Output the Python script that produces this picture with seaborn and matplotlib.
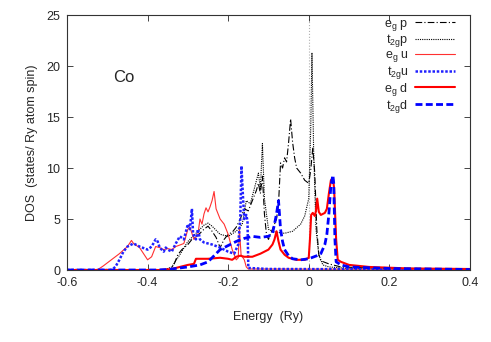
import numpy as np
import pandas as pd
import matplotlib
matplotlib.use("Agg")
import matplotlib.pyplot as plt
import seaborn as sns

sns.set_style("ticks")
plt.rcParams["font.family"] = ["Liberation Sans", "DejaVu Sans"]
plt.rcParams["mathtext.fontset"] = "custom"
plt.rcParams["mathtext.rm"] = "Liberation Sans"
plt.rcParams["mathtext.it"] = "Liberation Sans"

# e_g p (black dash-dot)
eg_p_E = [-0.6, -0.345, -0.335, -0.325, -0.315, -0.30, -0.29, -0.275, -0.26, -0.25,
          -0.24, -0.23, -0.22, -0.21, -0.20, -0.19, -0.18, -0.17, -0.16, -0.15,
          -0.14, -0.13, -0.125, -0.12, -0.115, -0.11, -0.105, -0.10, -0.09, -0.08,
          -0.075, -0.07, -0.065, -0.06, -0.055, -0.05, -0.045, -0.04, -0.035, -0.03,
          -0.02, -0.01, 0.0, 0.005, 0.01, 0.015, 0.02, 0.025, 0.03, 0.05, 0.08, 0.15, 0.4]
eg_p_D = [0, 0, 0.5, 1.5, 2.0, 2.5, 3.0, 3.4, 4.0, 4.3,
          3.8, 3.2, 2.2, 3.0, 3.5, 3.7, 4.2, 5.0, 6.0, 5.8,
          6.8, 7.8, 8.5, 7.5, 9.2, 5.5, 3.5, 3.0, 4.0, 5.0,
          6.5, 10.5, 10.0, 11.0, 10.6, 12.5, 14.8, 12.5, 11.0, 10.0,
          9.5, 8.8, 8.5, 9.8, 12.0, 9.5, 4.0, 1.5, 0.9, 0.6, 0.3, 0.2, 0.1]

# t2g p (black dotted)
t2g_p_E = [-0.6, -0.36, -0.34, -0.32, -0.30, -0.28, -0.26, -0.25, -0.24, -0.22,
           -0.20, -0.18, -0.165, -0.155, -0.145, -0.135, -0.125, -0.12, -0.115, -0.11,
           -0.10, -0.09, -0.08, -0.06, -0.04, -0.02, -0.01, 0.0, 0.005, 0.008,
           0.012, 0.018, 0.025, 0.035, 0.05, 0.1, 0.2, 0.4]
t2g_p_D = [0, 0, 0.3, 1.5, 2.8, 3.6, 4.4, 4.6, 4.3, 3.5,
           3.3, 3.8, 4.5, 6.8, 6.5, 8.0, 9.5, 8.0, 12.4, 7.0,
           4.0, 3.8, 3.7, 3.6, 3.8, 4.5, 5.3, 7.0, 14.0, 21.3,
           12.0, 4.0, 1.5, 0.5, 0.3, 0.15, 0.1, 0.05]

# e_g u (red thin)
eg_u_E = [-0.6, -0.525, -0.51, -0.49, -0.47, -0.45, -0.44, -0.435, -0.42, -0.41,
          -0.40, -0.39, -0.38, -0.37, -0.36, -0.35, -0.34, -0.33, -0.31, -0.30,
          -0.295, -0.285, -0.275, -0.27, -0.265, -0.26, -0.255, -0.25, -0.245, -0.24,
          -0.235, -0.23, -0.22, -0.21, -0.20, -0.19, -0.18, -0.175, -0.172, -0.168,
          -0.16, -0.155, -0.15, 0.4]
eg_u_D = [0, 0, 0.4, 1.0, 1.6, 2.3, 2.9, 2.6, 2.2, 1.6,
          1.0, 1.3, 2.3, 2.2, 2.0, 2.1, 2.0, 2.3, 2.6, 4.0,
          4.2, 3.0, 3.5, 5.0, 4.5, 5.5, 6.1, 5.7, 6.2, 6.8,
          7.7, 6.0, 5.0, 4.5, 3.5, 2.0, 1.0, 1.2, 4.0, 1.5,
          1.0, 0.3, 0.1, 0.05]

# t2g u (blue dotted)
t2g_u_E = [-0.6, -0.49, -0.48, -0.47, -0.46, -0.45, -0.435, -0.42, -0.40, -0.39,
           -0.38, -0.375, -0.37, -0.36, -0.355, -0.35, -0.34, -0.33, -0.32, -0.31,
           -0.30, -0.295, -0.29, -0.287, -0.28, -0.275, -0.27, -0.26, -0.24, -0.22,
           -0.20, -0.185, -0.175, -0.17, -0.167, -0.163, -0.16, -0.155, -0.152, -0.15,
           -0.1, 0.4]
t2g_u_D = [0, 0, 0.3, 1.0, 1.8, 2.3, 2.6, 2.3, 2.0, 2.3,
           3.0, 2.8, 2.2, 1.8, 2.2, 2.0, 1.8, 2.6, 3.3, 3.0,
           4.5, 4.0, 6.0, 3.5, 3.0, 4.0, 3.0, 2.7, 2.5, 2.2,
           1.8, 1.6, 2.5, 5.0, 10.2, 7.0, 5.0, 5.4, 4.8, 0.2,
           0.1, 0.05]

# e_g d (red thick)
eg_d_E = [-0.6, -0.37, -0.34, -0.32, -0.30, -0.285, -0.28, -0.25, -0.22, -0.20,
          -0.19, -0.18, -0.17, -0.16, -0.14, -0.12, -0.10, -0.09, -0.085, -0.08,
          -0.075, -0.07, -0.06, -0.05, -0.03, -0.01, 0.0, 0.003, 0.006, 0.01,
          0.015, 0.018, 0.021, 0.025, 0.03, 0.04, 0.045, 0.05, 0.055, 0.06,
          0.063, 0.068, 0.072, 0.08, 0.1, 0.15, 0.25, 0.4]
eg_d_D = [0, 0, 0.1, 0.3, 0.5, 0.6, 1.1, 1.1, 1.2, 1.1,
          1.0, 1.3, 1.4, 1.3, 1.3, 1.6, 2.0, 2.5, 3.0, 3.8,
          2.8, 2.0, 1.5, 1.2, 1.0, 1.0, 1.2, 3.0, 5.4, 5.6,
          5.3, 5.8, 7.0, 5.7, 5.4, 5.6, 6.0, 7.5, 8.8, 9.0,
          8.0, 3.0, 1.0, 0.8, 0.5, 0.3, 0.15, 0.1]

# t2g d (blue dashed)
t2g_d_E = [-0.6, -0.38, -0.35, -0.30, -0.27, -0.25, -0.22, -0.20, -0.18, -0.16,
           -0.14, -0.12, -0.10, -0.09, -0.085, -0.08, -0.075, -0.07, -0.065, -0.06,
           -0.05, -0.04, -0.02, 0.0, 0.02, 0.03, 0.04, 0.045, 0.05, 0.055,
           0.06, 0.062, 0.065, 0.068, 0.08, 0.1, 0.2, 0.4]
t2g_d_D = [0, 0, 0.05, 0.3, 0.5, 0.8, 2.0, 2.4, 2.8, 3.1,
           3.3, 3.2, 3.3, 3.6, 4.5, 5.5, 6.8, 4.0, 2.8, 2.0,
           1.4, 1.1, 1.0, 1.1, 1.4, 1.6, 2.5, 3.5, 5.5, 8.3,
           9.3, 8.5, 3.0, 0.8, 0.5, 0.3, 0.15, 0.05]

labels = [r"$\mathregular{e_g}$ p", r"$\mathregular{t_{2g}}$p", r"$\mathregular{e_g}$ u",
          r"$\mathregular{t_{2g}}$u", r"$\mathregular{e_g}$ d", r"$\mathregular{t_{2g}}$d"]

series = [
    (eg_p_E, eg_p_D, "black", (0, (6, 2, 1, 2)), 0.8),
    (t2g_p_E, t2g_p_D, "black", (0, (1, 1)), 0.8),
    (eg_u_E, eg_u_D, "#ff3030", "-", 0.8),
    (t2g_u_E, t2g_u_D, "#2020ff", (0, (1, 0.7)), 1.8),
    (eg_d_E, eg_d_D, "#ff0000", "-", 1.5),
    (t2g_d_E, t2g_d_D, "#0000ff", (0, (2.5, 1.2)), 2.0),
]

fig = plt.figure(figsize=(4.91, 3.42), dpi=100)
ax = fig.add_axes([0.1365, 0.2105, 0.8205, 0.7455])

ax.axvline(0, color="#b0b0b0", linestyle=":", linewidth=0.8, zorder=0)

for (E, D, c, ls, lw), lab in zip(series, labels):
    df = pd.DataFrame({"E": E, "D": D})
    sns.lineplot(data=df, x="E", y="D", ax=ax, color=c, linestyle=ls,
                 linewidth=lw, label=lab, sort=False)

ax.set_xlim(-0.6, 0.4)
ax.set_ylim(0, 25)
ax.set_xticks([-0.6, -0.4, -0.2, 0, 0.2, 0.4])
ax.set_xticklabels(["-0.6", "-0.4", "-0.2", "0", "0.2", "0.4"])
ax.set_yticks([0, 5, 10, 15, 20, 25])
ax.tick_params(direction="in", length=4, width=0.6, top=True, right=True,
               labelsize=9, pad=5)
for s in ax.spines.values():
    s.set_linewidth(0.8)
    s.set_color("#333333")

ax.set_xlabel("Energy  (Ry)", fontsize=9, labelpad=16)
ax.set_ylabel("DOS  (states/ Ry atom spin)", fontsize=9, labelpad=6)

ax.text(-0.46, 18.9, "Co", fontsize=12, ha="center", va="center")

leg = ax.legend(loc="upper right", bbox_to_anchor=(0.962, 0.99), frameon=False,
                fontsize=9, markerfirst=False, handlelength=3.2,
                handletextpad=0.5, labelspacing=-0.02, borderpad=0,
                borderaxespad=0)

fig.savefig("out.png", dpi=100)
